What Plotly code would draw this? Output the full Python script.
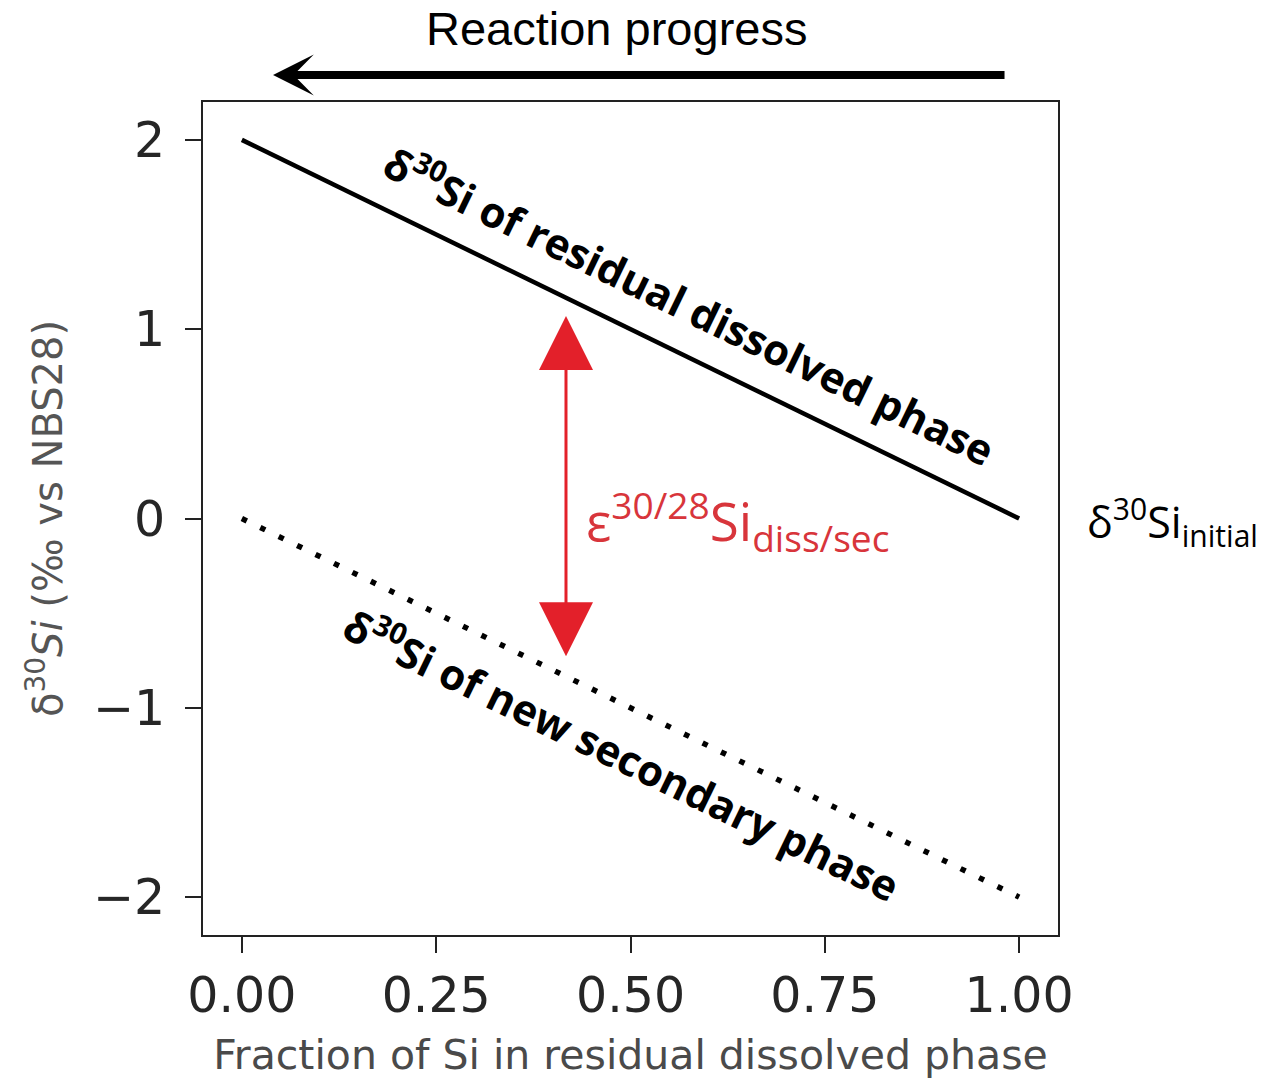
import plotly.graph_objects as go

# ---- data ----
fraction = [0.0, 1.0]
residual_dissolved = [2.0, 0.0]
new_secondary = [0.0, -2.0]
x_ticks = [0.0, 0.25, 0.5, 0.75, 1.0]
x_tick_labels = ["0.00", "0.25", "0.50", "0.75", "1.00"]
y_ticks = [-2, -1, 0, 1, 2]
y_tick_labels = ["\u22122", "\u22121", "0", "1", "2"]
eps_x = 0.417
eps_top = 1.07
eps_bottom = -0.735

fig = go.Figure()
fig.add_trace(go.Scatter(x=fraction, y=residual_dissolved, mode="lines",
                         line=dict(color="black", width=4.5), showlegend=False))
fig.add_trace(go.Scatter(x=fraction, y=new_secondary, mode="lines",
                         line=dict(color="black", width=5.5, dash="5.5px,15px"),
                         showlegend=False))

RED = "#e3202a"
# double-headed epsilon arrow
fig.add_annotation(x=eps_x, y=eps_top, ax=eps_x, ay=eps_bottom,
                   xref="x", yref="y", axref="x", ayref="y",
                   showarrow=True, arrowhead=2, startarrowhead=2,
                   arrowside="end+start", arrowwidth=3,
                   arrowsize=3.6, startarrowsize=3.6,
                   arrowcolor=RED, text="")

fig.add_annotation(x=eps_x, y=0, xref="x", yref="y", xanchor="left", yanchor="middle",
                   xshift=18, yshift=-2, showarrow=False,
                   text="\u03b5<sup>30/28</sup>Si<sub>diss/sec</sub>",
                   font=dict(family="Open Sans", size=53, color="#d8353b"))

# line labels
fig.add_annotation(x=0.577, y=1.13, xref="x", yref="y", showarrow=False,
                   textangle=25.9,
                   text="<b>\u03b4<sup>30</sup>Si of residual dissolved phase</b>",
                   font=dict(family="Open Sans", size=42, color="black"))
fig.add_annotation(x=0.49, y=-1.24, xref="x", yref="y", showarrow=False,
                   textangle=25.9,
                   text="<b>\u03b4<sup>30</sup>Si of new secondary phase</b>",
                   font=dict(family="Open Sans", size=42, color="black"))

# delta initial label
fig.add_annotation(x=1.0, y=0, xref="x", yref="y", xanchor="left", yanchor="middle",
                   xshift=66, yshift=-3, showarrow=False,
                   text="\u03b4<sup>30</sup>Si<sub>initial</sub>",
                   font=dict(family="Open Sans", size=43, color="black"))

# reaction progress arrow and text
fig.add_annotation(x=0.0819, y=1.0324, xref="paper", yref="paper",
                   ax=733, ay=0, axref="pixel", ayref="pixel",
                   showarrow=True, arrowhead=3, arrowwidth=8, arrowsize=0.85,
                   arrowcolor="black", text="")
fig.add_annotation(x=0.5, y=1.0, xref="paper", yref="paper", yanchor="middle",
                   xshift=-14, yshift=74, showarrow=False, text="Reaction progress",
                   font=dict(family="Liberation Sans", size=47, color="black"))

fig.update_xaxes(range=[-0.05, 1.05], tickvals=x_ticks, ticktext=x_tick_labels,
                 showgrid=False, zeroline=False, showline=True, linecolor="#222",
                 linewidth=2, mirror=True, ticks="outside", ticklen=16, tickwidth=2,
                 tickcolor="#222",
                 tickfont=dict(family="DejaVu Sans", size=49, color="#262626"),
                 title=dict(text="Fraction of Si in residual dissolved phase",
                            font=dict(family="DejaVu Sans", size=41, color="#4a4a4a"),
                            standoff=18))
fig.update_yaxes(range=[-2.2, 2.2], tickvals=y_ticks, ticktext=y_tick_labels,
                 showgrid=False, zeroline=False, showline=True, linecolor="#222",
                 linewidth=2, mirror=True, ticks="outside", ticklen=16, tickwidth=2,
                 tickcolor="#222", ticklabelstandoff=10,
                 tickfont=dict(family="DejaVu Sans", size=49, color="#262626"),
                 title=dict(text="\u03b4<sup>30</sup><i>Si</i> (\u2030 vs NBS28)",
                            font=dict(family="DejaVu Sans", size=40, color="#555555"),
                            standoff=18))

fig.update_layout(width=1268, height=1079, plot_bgcolor="white", paper_bgcolor="white",
                  margin=dict(l=203, r=210, t=102, b=144, autoexpand=False),
                  showlegend=False)

fig.write_html("out.html")
